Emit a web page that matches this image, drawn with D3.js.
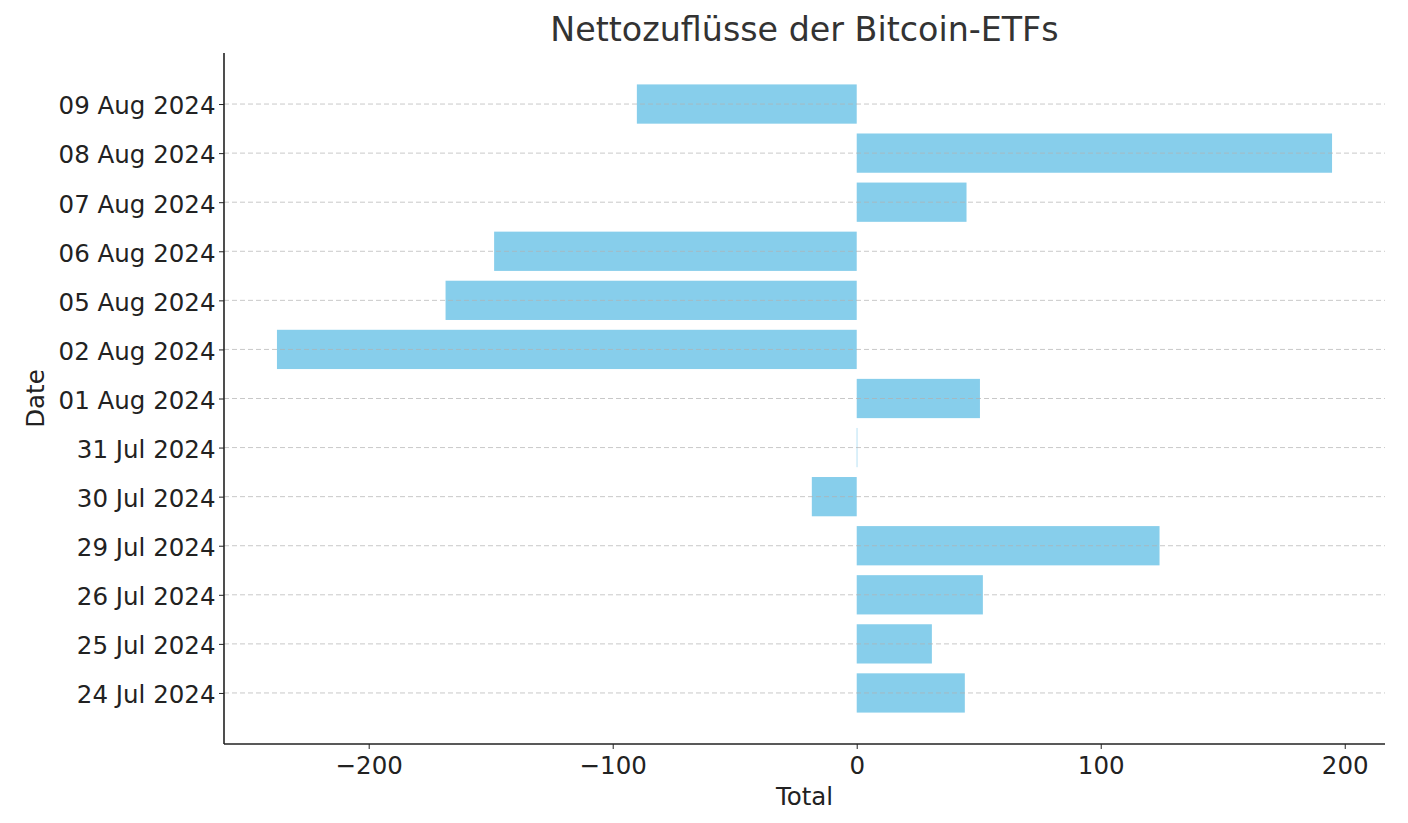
<!DOCTYPE html>
<html><head><meta charset="utf-8">
<script src="https://cdn.jsdelivr.net/npm/d3@7"></script>
<style>body{margin:0;background:#fff;} svg{display:block;font-family:"DejaVu Sans",sans-serif;}</style>
</head><body>
<svg id="c" width="1408" height="823"></svg>
<script>
const dates = ["24 Jul 2024","25 Jul 2024","26 Jul 2024","29 Jul 2024","30 Jul 2024","31 Jul 2024","01 Aug 2024","02 Aug 2024","05 Aug 2024","06 Aug 2024","07 Aug 2024","08 Aug 2024","09 Aug 2024"];
const totals = [44.3, 30.8, 51.7, 124.1, -18.4, 0.2, 50.5, -237.6, -168.5, -148.6, 45.0, 194.8, -90.1];
const xTicks = [-200, -100, 0, 100, 200];

const svg = d3.select("#c");
const L = 224, R = 1385, T = 53, B = 744;
const x = d3.scaleLinear().domain([-259.3, 216.5]).range([L, R]);
const yScale = d3.scaleLinear().domain([-1.04, 13.04]).range([B, T]);

const g = svg.append("g");
g.selectAll("rect.bar").data(totals).join("rect")
  .attr("class","bar")
  .attr("x", d => x(Math.min(0,d)))
  .attr("width", d => Math.max(0.6, Math.abs(x(d)-x(0))))
  .attr("y", (d,i) => yScale(i+0.4))
  .attr("height", (d,i) => yScale(i-0.4)-yScale(i+0.4))
  .attr("fill", "#87ceeb");

g.selectAll("line.grid").data(dates).join("line")
  .attr("x1", L).attr("x2", R)
  .attr("y1", (d,i)=>yScale(i)).attr("y2", (d,i)=>yScale(i))
  .attr("stroke","#b0b0b0").attr("stroke-opacity",0.7).attr("stroke-width",1)
  .attr("stroke-dasharray","5,3");

const xa = svg.append("g").attr("transform",`translate(0,${B})`)
  .call(d3.axisBottom(x).tickValues(xTicks).tickSize(5).tickPadding(8).tickFormat(d => d<0 ? "\u2212"+Math.abs(d) : d));
xa.select(".domain").remove();
xa.selectAll("text").attr("font-size",24.5).attr("fill","#222").attr("font-family","DejaVu Sans");
xa.selectAll("line").attr("stroke","#222");

const ya = svg.append("g").attr("transform",`translate(${L},0)`)
  .call(d3.axisLeft(yScale).tickValues(d3.range(dates.length)).tickSize(5).tickPadding(3.5).tickFormat(i => dates[i]));
ya.select(".domain").remove();
ya.selectAll("text").attr("font-size",24.5).attr("fill","#222").attr("font-family","DejaVu Sans").attr("dy","0.4em");
ya.selectAll("line").attr("stroke","#222");

svg.append("line").attr("x1",L).attr("x2",L).attr("y1",T).attr("y2",B).attr("stroke","#222").attr("stroke-width",1.6);
svg.append("line").attr("x1",L).attr("x2",R).attr("y1",B).attr("y2",B).attr("stroke","#222").attr("stroke-width",1.6);

svg.append("text").attr("x",(L+R)/2).attr("y",41).attr("text-anchor","middle")
  .attr("font-size",33.3).attr("fill","#333").text("Nettozuflüsse der Bitcoin-ETFs");
svg.append("text").attr("x",(L+R)/2).attr("y",805).attr("text-anchor","middle")
  .attr("font-size",24.5).attr("fill","#222").text("Total");
svg.append("text").attr("transform",`translate(44,${(T+B)/2}) rotate(-90)`).attr("text-anchor","middle")
  .attr("font-size",24.5).attr("fill","#222").text("Date");
</script>
</body></html>
